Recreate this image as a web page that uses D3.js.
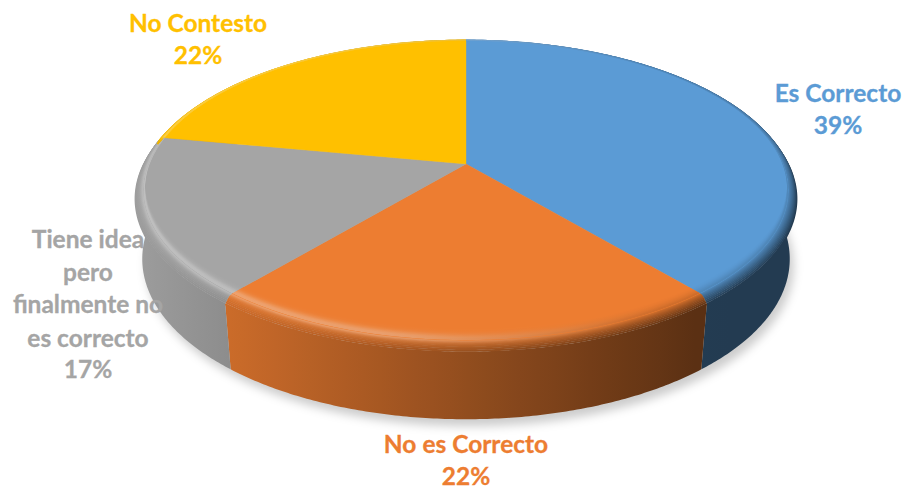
<!DOCTYPE html>
<html>
<head>
<meta charset="utf-8">
<style>
html,body{margin:0;padding:0;background:#fff;}
svg{display:block;}
text{font-family:"Lato","Open Sans",sans-serif;font-weight:700;}
</style>
<script src="https://cdn.jsdelivr.net/npm/d3@7/dist/d3.min.js"></script>
</head>
<body>
<svg id="chart" width="903" height="489"></svg>
<script>
// Survey answers
const categories = ["Es Correcto", "No es Correcto", "Tiene idea pero finalmente no es correcto", "No Contesto"];
const percents = [39, 22, 17, 22];
const sliceColors = ["#5b9bd5", "#ed7d31", "#a5a5a5", "#ffc000"];
const labelLines = [
  ["Es Correcto", "39%"],
  ["No es Correcto", "22%"],
  ["Tiene idea", "pero", "finalmente no", "es correcto", "17%"],
  ["No Contesto", "22%"]
];

const svg = d3.select("#chart");
const defs = svg.append("defs");

// Perspective disc: r is the disc radius, z a downward screen offset
const apex = {x: 466, y: 164};
const persp = {a: 145, b: 317, k: 0.177};
function project(theta, r, z) {
  const u = Math.sin(theta) * r, v = -Math.cos(theta) * r;
  const w = 1 - persp.k * v;
  return [apex.x + persp.b * u / w, apex.y + persp.a * v / w + z];
}

// Rim and base of the extruded disc
const rim = {r: 1.025, z: 7};
const base = {r: 1.005, z: 78};
const baseZ = theta => base.z - 12 * (1 + Math.cos(theta));

const pie = d3.pie().sort(null).value(d => d).startAngle(0).endAngle(2 * Math.PI);
const slices = pie(percents);
const color = d3.scaleOrdinal().domain(categories).range(sliceColors);
const line = d3.line();
const STEP = 0.01;
const arcAngles = (s, pad = 0) => {
  const a0 = s.startAngle - pad, a1 = s.endAngle + pad;
  const n = Math.ceil((a1 - a0) / STEP);
  return d3.range(n + 1).map(i => a0 + (a1 - a0) * i / n);
};

// Light falls from the left: side walls darken towards the right
const shade = d3.scaleLinear().domain([135, 700]).range([0.95, 0.38]).clamp(true);
const glow = d3.scaleLinear().domain([135, 400, 640]).range([0.3, 0.3, 0]).clamp(true);
const scaleRgb = (c, f) => { const q = d3.rgb(c); return d3.rgb(q.r * f, q.g * f, q.b * f); };
const gradientXs = d3.range(135, 800, 35);

function gradient(id, colorAt) {
  const g = defs.append("linearGradient").attr("id", id)
    .attr("gradientUnits", "userSpaceOnUse")
    .attr("x1", 135).attr("x2", 135 + 35 * (gradientXs.length - 1)).attr("y1", 0).attr("y2", 0);
  gradientXs.forEach((x, i) => g.append("stop")
    .attr("offset", i / (gradientXs.length - 1))
    .attr("stop-color", colorAt(x)));
  return `url(#${id})`;
}

// Colour across the bevel: t runs from -1 on the face to 1 at the outer edge
function bevelColor(c, t) {
  const bump = Math.exp(-Math.pow((t + 0.1) / 0.42, 2));
  const dark = Math.pow(Math.max(0, (t + 1) / 2), 2);
  return x => {
    const mixed = d3.interpolateRgb(c, scaleRgb(c, shade(x)))(dark);
    return d3.interpolateRgb(mixed, "#fff")(glow(x) * bump);
  };
}

// Soft drop shadow below the base
defs.append("filter").attr("id", "soft").attr("x", "-10%").attr("y", "-10%").attr("width", "120%").attr("height", "130%")
  .append("feGaussianBlur").attr("stdDeviation", 5);
const whole = d3.range(0, 2 * Math.PI + STEP, STEP);
svg.append("path")
  .attr("d", line(whole.map(t => { const p = project(t, base.r, baseZ(t)); return [p[0] + 4, p[1] + 7]; })) + "Z")
  .attr("fill", "#000").attr("fill-opacity", 0.2).attr("filter", "url(#soft)");

// Side walls
const sides = svg.append("g");
slices.forEach((s, i) => {
  const c = color(categories[i]);
  const angles = arcAngles(s);
  const pts = angles.map(t => project(t, rim.r, rim.z))
    .concat(angles.slice().reverse().map(t => project(t, base.r, baseZ(t))));
  sides.append("path").attr("d", line(pts) + "Z")
    .attr("fill", gradient(`side${i}`, x => scaleRgb(c, shade(x))));
});

// Outer half of the bevel, running from the rim up to the face edge
const RINGS = 10;
const outerBevel = svg.append("g").attr("fill", "none").attr("stroke-width", 2);
slices.forEach((s, i) => {
  const c = color(categories[i]);
  const angles = arcAngles(s);
  d3.range(RINGS, -1, -1).forEach(j => {
    const t = j / RINGS;
    outerBevel.append("path")
      .attr("d", line(angles.map(a => project(a, 1 + (rim.r - 1) * t, rim.z * t * t))))
      .attr("stroke", gradient(`outer${i}_${j}`, bevelColor(c, t)));
  });
});

// Top face
const faces = svg.append("g");
const facePath = s => line([[apex.x, apex.y]].concat(arcAngles(s).map(t => project(t, 1, 0)))) + "Z";
slices.forEach((s, i) => {
  const c = color(categories[i]);
  faces.append("path").attr("d", facePath(s))
    .attr("fill", c).attr("stroke", c).attr("stroke-width", 0.4);
  defs.append("clipPath").attr("id", `clip${i}`).append("path").attr("d", facePath(s));
});

// Inner half of the bevel: the edge shifted upwards and clipped to its slice,
// so it is widest along the front and vanishes along the back
const INSET = 11;
const innerBevel = svg.append("g").attr("fill", "none").attr("stroke-width", 2);
slices.forEach((s, i) => {
  const c = color(categories[i]);
  const angles = arcAngles(s, 0.06);
  const g = innerBevel.append("g").attr("clip-path", `url(#clip${i})`);
  d3.range(RINGS, 0, -1).forEach(j => {
    const t = j / RINGS;
    g.append("path")
      .attr("d", line(angles.map(a => project(a, 1, -INSET * t))))
      .attr("stroke", gradient(`inner${i}_${j}`, bevelColor(c, -t)));
  });
});

// Data labels
const labelCenters = [838, 466, 88, 198];
const labelBaselines = [
  [102, 134],
  [453, 485],
  [248, 281, 313, 347, 378],
  [32, 64]
];
const labels = svg.append("g").attr("text-anchor", "middle").attr("font-size", 24.5);
labelLines.forEach((lines, i) => {
  lines.forEach((txt, j) => {
    labels.append("text")
      .attr("x", labelCenters[i])
      .attr("y", labelBaselines[i][j])
      .attr("fill", color(categories[i]))
      .attr("stroke", color(categories[i]))
      .attr("stroke-width", 0.3)
      .text(txt);
  });
});
</script>
</body>
</html>
